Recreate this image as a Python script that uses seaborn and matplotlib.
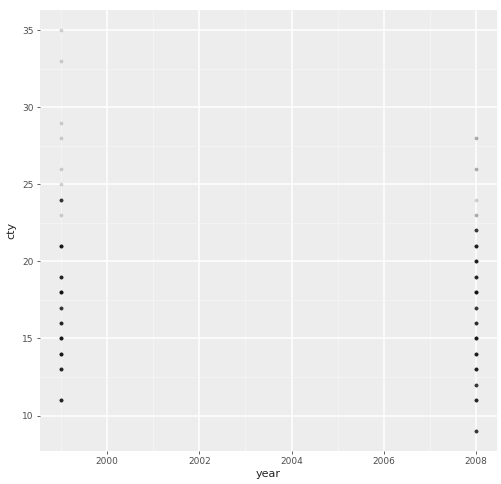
import numpy as np
import pandas as pd
import matplotlib
matplotlib.use("Agg")
import matplotlib.pyplot as plt
import seaborn as sns
from matplotlib.ticker import MultipleLocator

# City mileage values observed in each model year, with how many cars share each value
cty_1999 = [11, 13, 14, 15, 16, 17, 18, 19, 21, 23, 24, 25, 26, 28, 29, 33, 35]
n_1999 = [10, 10, 12, 12, 10, 8, 13, 10, 12, 1, 8, 1, 1, 1, 1, 1, 1]
cty_2008 = [9, 11, 12, 13, 14, 15, 16, 17, 18, 19, 20, 21, 22, 23, 24, 26, 28]
n_2008 = [8, 10, 8, 11, 11, 12, 9, 8, 13, 10, 11, 11, 8, 2, 1, 2, 2]

years = [1999] * sum(n_1999) + [2008] * sum(n_2008)
cty = list(np.repeat(cty_1999, n_1999)) + list(np.repeat(cty_2008, n_2008))
df = pd.DataFrame({"year": years, "cty": cty})

sns.set_theme(style="darkgrid")
fig = plt.figure(figsize=(5.01, 4.84), dpi=100)
ax = fig.add_axes([40 / 501, 1 - 451 / 484, 457 / 501, 441 / 484])

sns.scatterplot(data=df, x="year", y="cty", ax=ax, color="black",
                alpha=0.17, s=7, linewidth=0)

ax.set_facecolor("#ededed")
ax.set_xlim(1998.55, 2008.45)
ax.set_ylim(7.7, 36.3)
ax.xaxis.set_major_locator(MultipleLocator(2))
ax.xaxis.set_minor_locator(MultipleLocator(1))
ax.yaxis.set_major_locator(MultipleLocator(5))
ax.yaxis.set_minor_locator(MultipleLocator(2.5))
ax.grid(which="major", color="white", linewidth=1.1)
ax.grid(which="minor", color="#f7f7f7", linewidth=0.5)
for s in ax.spines.values():
    s.set_visible(False)
ax.tick_params(which="major", length=2.5, width=0.6, color="#444444",
               labelsize=6.5, labelcolor="#4d4d4d", pad=2, bottom=True, left=True)
ax.tick_params(which="minor", length=0)
ax.set_xlabel("year", fontsize=8, color="#222222", labelpad=2)
ax.set_ylabel("cty", fontsize=8, color="#222222", labelpad=4)

fig.savefig("out.png", dpi=100)
